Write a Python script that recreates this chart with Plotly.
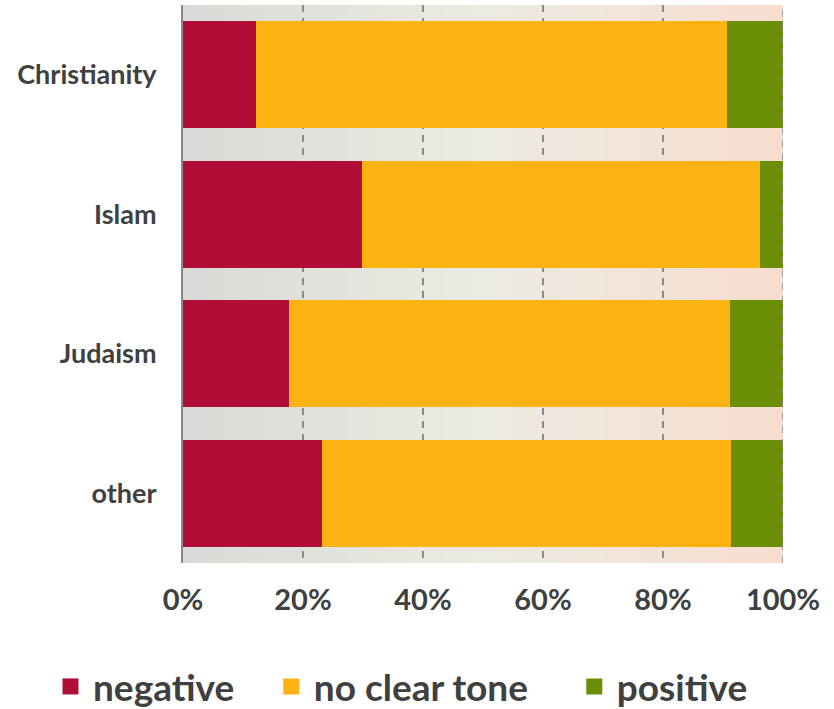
import plotly.graph_objects as go

categories = ["Christianity", "Islam", "Judaism", "other"]
negative = [0.122, 0.298, 0.177, 0.232]
no_clear_tone = [0.785, 0.664, 0.735, 0.681]
positive = [0.093, 0.038, 0.088, 0.087]
tick_vals = [0, 0.2, 0.4, 0.6, 0.8, 1.0]
tick_text = ["0%", "20%", "40%", "60%", "80%", "100%"]

series = [
    ("negative", negative, "#AF0F37"),
    ("no clear tone", no_clear_tone, "#FDB412"),
    ("positive", positive, "#6A8E06"),
]

FONT = "Lato"
TXT = "#404040"
GRID = "#8a8a8a"

legend_ids = ["legend", "legend2", "legend3"]
legend_x = [-0.225, 0.143, 0.648]

fig = go.Figure()
for name, vals, color in series:
    fig.add_trace(go.Bar(
        y=categories, x=vals, name=name, orientation="h", showlegend=False,
        marker=dict(color=color, line=dict(width=0)),
    ))
for (name, vals, color), lid in zip(series, legend_ids):
    fig.add_trace(go.Scatter(
        x=[None], y=[None], name=name, mode="markers", legend=lid,
        marker=dict(symbol="square", size=19, color=color),
    ))

# background gradient
stops = [(0.0, (217, 217, 215)), (0.5, (236, 235, 226)), (1.0, (248, 221, 206))]
def col(t):
    for (t0, c0), (t1, c1) in zip(stops[:-1], stops[1:]):
        if t0 <= t <= t1:
            f = (t - t0) / (t1 - t0)
            return "rgb(%d,%d,%d)" % tuple(round(a + (b - a) * f) for a, b in zip(c0, c1))
    return "rgb(%d,%d,%d)" % stops[-1][1]

N = 120
shapes = []
for i in range(N):
    x0 = i / N
    x1 = (i + 1) / N
    shapes.append(dict(type="rect", xref="x", yref="paper", x0=x0, x1=min(x1 + 0.002, 1),
                       y0=0, y1=1, fillcolor=col((x0 + x1) / 2),
                       line=dict(width=0), layer="below"))
shapes.append(dict(type="line", xref="x", yref="paper", x0=1, x1=1, y0=0, y1=1,
                   line=dict(color=GRID, width=1.5, dash="7px,6px"), layer="above"))

legend_style = dict(orientation="h", xref="paper", yref="paper",
                    xanchor="left", y=-0.222, yanchor="middle",
                    font=dict(family=FONT, size=37, color=TXT, weight="bold"),
                    itemsizing="trace", itemwidth=35, bgcolor="rgba(0,0,0,0)")

layout_legends = {lid: dict(legend_style, x=lx) for lid, lx in zip(legend_ids, legend_x)}

fig.update_layout(
    width=834, height=709,
    barmode="stack", bargap=0.23,
    margin=dict(l=183, r=51, t=5, b=146, autoexpand=False),
    paper_bgcolor="white", plot_bgcolor="white",
    shapes=shapes,
    font=dict(family=FONT, color=TXT),
    showlegend=True,
    xaxis=dict(range=[0, 1], tickvals=tick_vals, ticktext=tick_text,
               showgrid=True, gridcolor=GRID, gridwidth=1.5, griddash="7px,6px",
               zeroline=False, showline=False,
               ticks="outside", ticklen=11, tickcolor="rgba(0,0,0,0)",
               tickfont=dict(family=FONT, size=29, color=TXT, weight="bold")),
    yaxis=dict(categoryorder="array", categoryarray=categories, autorange="reversed",
               showgrid=False, zeroline=False, showline=True, linecolor=GRID, linewidth=2,
               ticks="outside", ticklen=19, tickcolor="rgba(0,0,0,0)",
               tickfont=dict(family=FONT, size=27, color=TXT, weight="bold")),
    **layout_legends,
)

fig.write_html("out.html", config={"displayModeBar": False},
               post_script="document.body.style.margin='0';document.body.style.overflow='hidden';")
